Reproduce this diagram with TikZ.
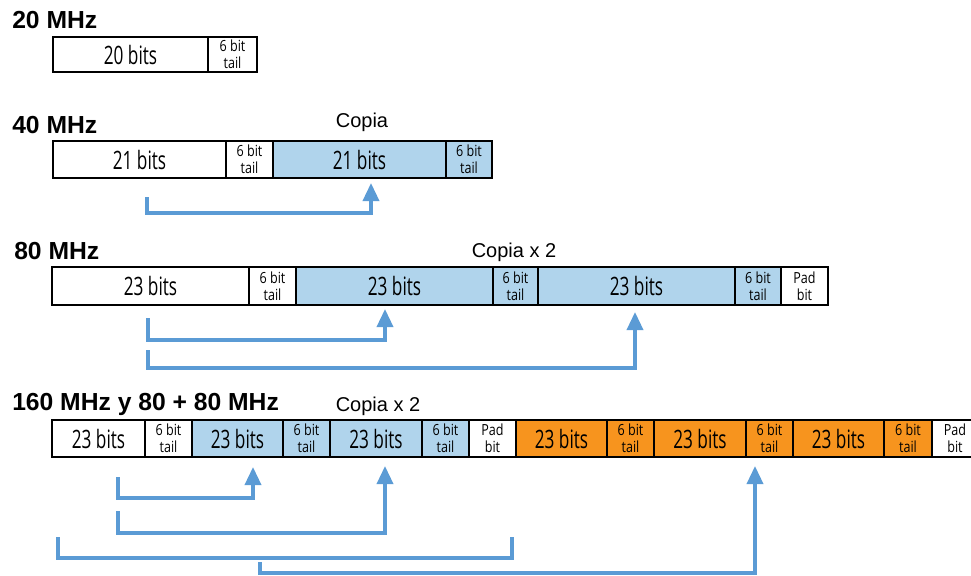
\documentclass[tikz,border=0pt]{standalone}
\usepackage{fontspec}
\setmainfont{Liberation Sans}
\newfontfamily\condfont[FakeStretch=0.68]{Open Sans}
\newfontfamily\smallcondfont[FakeStretch=0.82]{Open Sans}
\usetikzlibrary{arrows.meta}
\definecolor{cpblue}{HTML}{B0D4EC}
\definecolor{cporange}{HTML}{F7941E}
\definecolor{arblue}{HTML}{5B9BD5}
\tikzset{
 cellbox/.style={draw=black,line width=2pt,inner sep=0pt,outer sep=0pt,font=\condfont\fontsize{19}{20}\selectfont,text=black},
 wcell/.style={fill=white},
 bcell/.style={fill=cpblue},
 ocell/.style={fill=cporange},
 small/.style={font=\smallcondfont\fontsize{11.5}{12.5}\selectfont,align=center},
 title/.style={anchor=base west,font=\bfseries\fontsize{18.5}{20}\selectfont,inner sep=0pt},
 copylabel/.style={anchor=base,font=\fontsize{15}{18}\selectfont,inner sep=0pt},
 copyarrow/.style={draw=arblue,line width=2.6pt,-{Triangle[width=12pt,length=13.5pt]}},
 copyline/.style={draw=arblue,line width=2.6pt},
}
\newcommand\bitcell[7]{%
  \pgfmathsetmacro\cw{(#3-#2)*0.75}%
  \pgfmathsetmacro\ch{(#5-#4)*0.75}%
  \node[cellbox,#6,minimum width=\cw pt,minimum height=\ch pt] (#1) at ({(#2+#3)/2},{(#4+#5)/2}) {#7};}
\begin{document}
\begin{tikzpicture}[x=0.75pt,y=-0.75pt]
\useasboundingbox (0,0) rectangle (971,575);
% ---------- 20 MHz
\node[title] (t1) at (12,28) {20 MHz};
\bitcell{a1}{53}{208}{37}{72}{wcell}{20 bits}
\bitcell{a2}{208}{257}{37}{72}{wcell,small}{6 bit\\tail}
% ---------- 40 MHz
\node[title] (t2) at (12,133) {40 MHz};
\node[copylabel] (c2) at (362,127) {Copia};
\bitcell{b1}{53}{226}{141}{178}{wcell}{21 bits}
\bitcell{b2}{226}{273}{141}{178}{wcell,small}{6 bit\\tail}
\bitcell{b3}{273}{446}{141}{178}{bcell}{21 bits}
\bitcell{b4}{446}{492}{141}{178}{bcell,small}{6 bit\\tail}
\coordinate (b1s) at (147,197);
\coordinate (b3e) at (371,183);
\draw[copyarrow] (b1s) -- ++(0,16) -| (b3e);
% ---------- 80 MHz
\node[title] (t3) at (14,259) {80 MHz};
\node[copylabel] (c3) at (514,257) {Copia x 2};
\bitcell{d1}{52}{249}{267}{305}{wcell}{23 bits}
\bitcell{d2}{249}{296}{267}{305}{wcell,small}{6 bit\\tail}
\bitcell{d3}{296}{493}{267}{305}{bcell}{23 bits}
\bitcell{d4}{493}{538}{267}{305}{bcell,small}{6 bit\\tail}
\bitcell{d5}{538}{735}{267}{305}{bcell}{23 bits}
\bitcell{d6}{735}{781}{267}{305}{bcell,small}{6 bit\\tail}
\bitcell{d7}{781}{828}{267}{305}{wcell,small}{Pad\\bit}
\coordinate (d1s) at (148,318);
\coordinate (d3e) at (385,309);
\coordinate (d1t) at (148,350);
\coordinate (d5e) at (635,312);
\draw[copyarrow] (d1s) -- ++(0,22) -| (d3e);
\draw[copyarrow] (d1t) -- ++(0,18) -| (d5e);
% ---------- 160 MHz
\node[title] (t4) at (12,410) {160 MHz y 80 + 80 MHz};
\node[copylabel] (c4) at (378,411) {Copia x 2};
\bitcell{e1}{52}{145}{420}{457}{wcell}{23 bits}
\bitcell{e2}{145}{192}{420}{457}{wcell,small}{6 bit\\tail}
\bitcell{e3}{192}{283}{420}{457}{bcell}{23 bits}
\bitcell{e4}{283}{330}{420}{457}{bcell,small}{6 bit\\tail}
\bitcell{e5}{330}{422}{420}{457}{bcell}{23 bits}
\bitcell{e6}{422}{469}{420}{457}{bcell,small}{6 bit\\tail}
\bitcell{e7}{469}{516}{420}{457}{wcell,small}{Pad\\bit}
\bitcell{e8}{516}{607}{420}{457}{ocell}{23 bits}
\bitcell{e9}{607}{654}{420}{457}{ocell,small}{6 bit\\tail}
\bitcell{e10}{654}{746}{420}{457}{ocell}{23 bits}
\bitcell{e11}{746}{793}{420}{457}{ocell,small}{6 bit\\tail}
\bitcell{e12}{793}{884}{420}{457}{ocell}{23 bits}
\bitcell{e13}{884}{932}{420}{457}{ocell,small}{6 bit\\tail}
\bitcell{e14}{932}{978}{420}{457}{wcell,small}{Pad\\bit}
\coordinate (e1s) at (118,477);
\coordinate (e3e) at (253,467);
\coordinate (e1t) at (118,511);
\coordinate (e5e) at (385,466);
\coordinate (gl) at (58,537);
\coordinate (gr) at (512,537);
\coordinate (gm) at (260,562);
\coordinate (e10e) at (755,466);
\draw[copyarrow] (e1s) -- ++(0,21) -| (e3e);
\draw[copyarrow] (e1t) -- ++(0,22) -| (e5e);
\draw[copyline] (gl) -- ++(0,21) -| (gr);
\draw[copyarrow] (gm) -- ++(0,11) -| (e10e);
\end{tikzpicture}
\end{document}
